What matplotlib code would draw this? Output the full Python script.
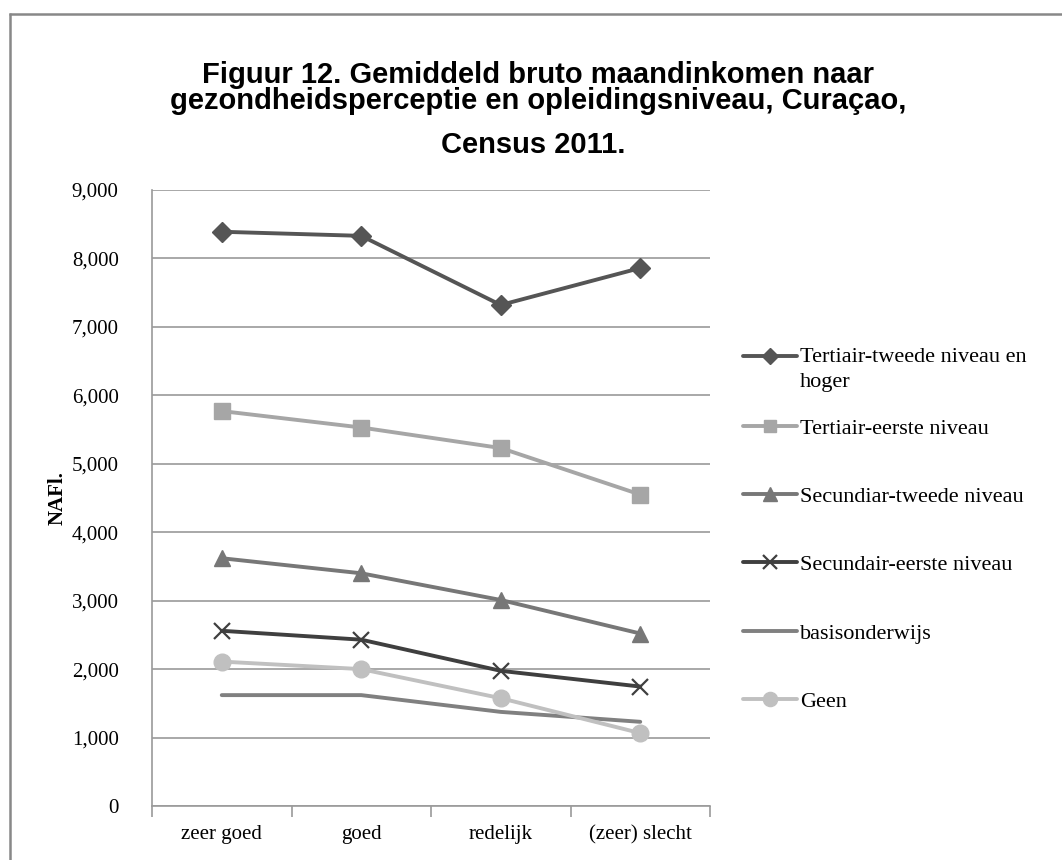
import numpy as np
import matplotlib
matplotlib.use("Agg")
import matplotlib.pyplot as plt
from matplotlib.lines import Line2D
from matplotlib.legend_handler import HandlerLine2D

# ---- data ----
categories = ["zeer goed", "goed", "redelijk", "(zeer) slecht"]
tertiair_tweede = [8390, 8330, 7320, 7860]
tertiair_eerste = [5770, 5530, 5230, 4550]
secundiar_tweede = [3620, 3400, 3010, 2520]
secundair_eerste = [2560, 2430, 1975, 1745]
basisonderwijs = [1620, 1620, 1375, 1230]
geen = [2110, 2000, 1575, 1065]
series_labels = ["Tertiair-tweede niveau en\nhoger", "Tertiair-eerste niveau",
                 "Secundiar-tweede niveau", "Secundair-eerste niveau",
                 "basisonderwijs", "Geen"]
yticks = [0, 1000, 2000, 3000, 4000, 5000, 6000, 7000, 8000, 9000]
ytick_labels = ["0", "1,000", "2,000", "3,000", "4,000", "5,000", "6,000", "7,000", "8,000", "9,000"]
title_lines = "Figuur 12. Gemiddeld bruto maandinkomen naar\ngezondheidsperceptie en opleidingsniveau, Curaçao,"
title_last = "Census 2011."
ylabel = "NAFl."

W, H = 1062, 860
fig = plt.figure(figsize=(W / 100, H / 100), dpi=100)
fig.patch.set_facecolor("white")

# frame lines (top and left)
fig.add_artist(Line2D([8.5 / W, 1.0], [1 - 14 / H, 1 - 14 / H], transform=fig.transFigure,
                      color="#888888", lw=1.8, solid_capstyle="butt"))
fig.add_artist(Line2D([9.5 / W, 9.5 / W], [0, 1 - 13 / H], transform=fig.transFigure,
                      color="#888888", lw=1.8, solid_capstyle="butt"))

ax = fig.add_axes([152 / W, 1 - 806 / H, (710 - 152) / W, (806 - 190) / H])
x = np.arange(len(categories))

styles = [
    dict(color="#555555", marker="D", ms=10, mec="#555555", mfc="#555555"),
    dict(color="#a6a6a6", marker="s", ms=11, mec="#a6a6a6", mfc="#a6a6a6"),
    dict(color="#777777", marker="^", ms=12, mec="#777777", mfc="#777777"),
    dict(color="#3f3f3f", marker="x", ms=12, mew=1.6, mec="#3f3f3f"),
    dict(color="#808080", marker=None),
    dict(color="#c0c0c0", marker="o", ms=12, mec="#c0c0c0", mfc="#c0c0c0"),
]
data = [tertiair_tweede, tertiair_eerste, secundiar_tweede, secundair_eerste, basisonderwijs, geen]
lines = []
for vals, lab, st in zip(data, series_labels, styles):
    ln, = ax.plot(x, vals, lw=2.8, label=lab, solid_capstyle="round", solid_joinstyle="round", **st)
    lines.append(ln)

ax.set_xlim(-0.5, len(categories) - 0.5)
ax.set_ylim(0, 9000)
ax.set_yticks(yticks)
ax.set_yticklabels(ytick_labels, fontfamily="Liberation Serif", fontsize=15)
ax.tick_params(axis="y", length=0, pad=24)

ax.set_xticks(np.arange(-0.5, len(categories), 1.0))
ax.set_xticklabels([])
ax.set_xticks(x, minor=True)
ax.set_xticklabels(categories, minor=True, fontfamily="Liberation Serif", fontsize=15)
ax.tick_params(axis="x", which="major", length=8, width=1.2, color="#999999", direction="out")
ax.tick_params(axis="x", which="minor", length=0, pad=14)

ax.grid(axis="y", color="#9a9a9a", lw=1.2)
ax.set_axisbelow(True)
for s in ["top", "right"]:
    ax.spines[s].set_visible(False)
for s in ["left", "bottom"]:
    ax.spines[s].set_color("#9a9a9a")
    ax.spines[s].set_linewidth(1.2)

ax.set_ylabel(ylabel, fontfamily="Liberation Serif", fontweight="bold", fontsize=15)
ax.yaxis.set_label_coords(68 / W, 1 - 498 / H, transform=fig.transFigure)

fig.text(538 / W, 1 - 88 / H, title_lines, ha="center", va="center",
         fontfamily="Liberation Sans", fontweight="bold", fontsize=21, linespacing=0.95)
fig.text(533 / W, 1 - 145 / H, title_last, ha="center", va="center",
         fontfamily="Liberation Sans", fontweight="bold", fontsize=21)


class FirstLineHandler(HandlerLine2D):
    def __init__(self, shift, **kw):
        super().__init__(**kw)
        self.shift = shift

    def create_artists(self, legend, orig_handle, xdescent, ydescent, width, height, fontsize, trans):
        arts = super().create_artists(legend, orig_handle, xdescent, ydescent, width, height, fontsize, trans)
        for a in arts:
            a.set_ydata(np.asarray(a.get_ydata(), float) + self.shift)
        return arts


leg_kw = dict(loc="upper left", frameon=False,
              prop={"family": "Liberation Serif", "size": 16},
              handlelength=2.45, handletextpad=0.12,
              borderpad=0, borderaxespad=0, numpoints=1, markerscale=0.85)

leg1 = fig.legend(handles=lines[:1], labels=series_labels[:1],
                  bbox_to_anchor=(743 / W, 1 - 348 / H),
                  handler_map={lines[0]: FirstLineHandler(shift=9.7)}, **leg_kw)
for t in leg1.get_texts():
    t.set_linespacing(1.4)

leg2 = fig.legend(handles=lines[1:], labels=series_labels[1:],
                  bbox_to_anchor=(743 / W, 1 - 418 / H), labelspacing=2.15, **leg_kw)

fig.savefig("out.png", dpi=100, facecolor="white")
